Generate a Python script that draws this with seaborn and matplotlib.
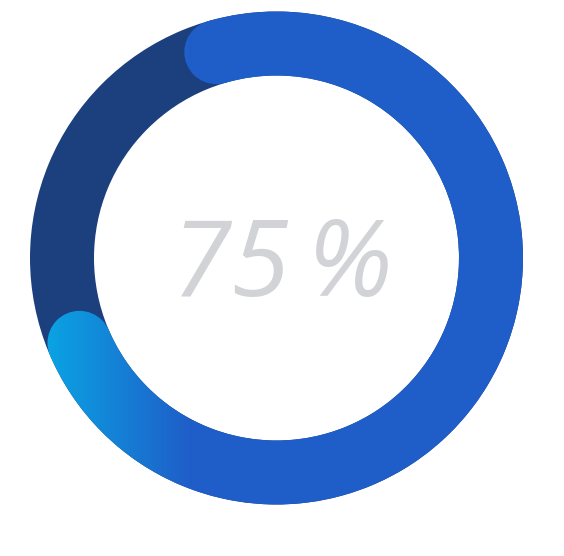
import numpy as np
import matplotlib
matplotlib.use("Agg")
import matplotlib.pyplot as plt
from matplotlib.patches import Wedge, Circle
from matplotlib.colors import ListedColormap
import seaborn as sns

# data
value = 75            # percent complete
label = "75\u2009%"

# styling
track_color = "#1c3f7d"
bar_color = "#1f5dc8"
grad_start = "#0aa3e3"
text_color = "#d2d3d7"

sns.set_theme(style="white")

W, H = 564, 556
fig = plt.figure(figsize=(W / 100, H / 100), dpi=100)
ax = fig.add_axes([0, 0, 1, 1])
ax.set_xlim(0, W)
ax.set_ylim(0, H)
ax.axis("off")

cx, cy = 276.5, 298.0
r_out, width = 246.5, 64.0
r_mid = r_out - width / 2

# background track
ax.add_patch(Wedge((cx, cy), r_out, 0, 360, width=width, facecolor=track_color, edgecolor="none"))

# progress arc: clockwise from the top
theta_end = 106.3
cap_inset = 7.0
span = value / 100 * 360 - cap_inset
theta_start = theta_end - span

arc = Wedge((cx, cy), r_out, theta_start, theta_end, width=width, facecolor="none", edgecolor="none")
caps = []
for th in (theta_start, theta_end):
    t = np.deg2rad(th)
    caps.append(Circle((cx + r_mid * np.cos(t), cy + r_mid * np.sin(t)), width / 2,
                       facecolor="none", edgecolor="none"))

# horizontal gradient image
pal = sns.blend_palette([grad_start, bar_color], 256)
cmap = ListedColormap(pal)
xs = np.linspace(0, W, W)
g0, g1 = 47.0, 192.0
tvals = np.clip((xs - g0) / (g1 - g0), 0, 1)
img = np.tile(tvals, (H, 1))
for p in [arc] + caps:
    ax.add_patch(p)
    im = ax.imshow(img, cmap=cmap, vmin=0, vmax=1, extent=(0, W, 0, H),
                   origin="lower", interpolation="bilinear", aspect="auto", zorder=2)
    im.set_clip_path(p)

ax.set_xlim(0, W)
ax.set_ylim(0, H)

ax.text(282, 288, label, ha="center", va="center", fontsize=77, color=text_color,
        family=["Open Sans", "DejaVu Sans"], style="italic", zorder=5)

fig.savefig("out.png", dpi=100, facecolor="white")
